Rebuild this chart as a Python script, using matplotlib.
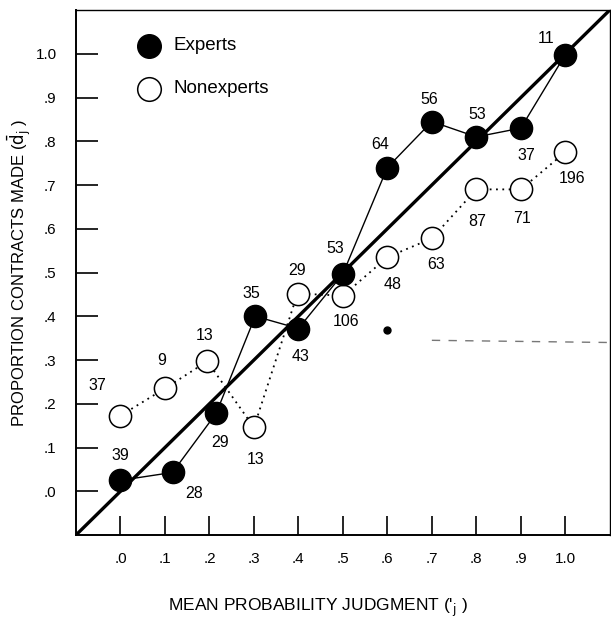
import matplotlib.pyplot as plt

plt.rcParams['font.family'] = ['Liberation Sans', 'DejaVu Sans']

# mean probability judgment (x) and proportion of contracts made (y)
expert_x = [0.0, 0.117, 0.215, 0.303, 0.40, 0.50, 0.60, 0.70, 0.80, 0.90, 1.0]
expert_y = [0.025, 0.043, 0.178, 0.40, 0.372, 0.497, 0.74, 0.845, 0.81, 0.83, 0.998]
expert_n = [39, 28, 29, 35, 43, 53, 64, 56, 53, 37, 11]

nonexpert_x = [0.0, 0.10, 0.195, 0.30, 0.398, 0.50, 0.60, 0.70, 0.80, 0.90, 1.0]
nonexpert_y = [0.173, 0.235, 0.297, 0.146, 0.452, 0.447, 0.535, 0.578, 0.69, 0.69, 0.775]
nonexpert_n = [37, 9, 13, 13, 29, 106, 48, 63, 87, 71, 196]

tick_vals = [0.0, 0.1, 0.2, 0.3, 0.4, 0.5, 0.6, 0.7, 0.8, 0.9, 1.0]
tick_text = ['.0', '.1', '.2', '.3', '.4', '.5', '.6', '.7', '.8', '.9', '1.0']

# label offsets in pixels (style only)
expert_off = [(0, 25), (22, -21), (4, -29), (-4, 23), (2, -28), (-8, 25),
              (-7, 23), (-3, 22), (1, 22), (6, -27), (-19, 16)]
nonexpert_off = [(-23, 30), (-3, 28), (-3, 26), (2, -32), (0, 23), (3, -26),
                 (5, -27), (4, -26), (1, -32), (1, -29), (7, -26)]

fig = plt.figure(figsize=(6.11, 6.18), dpi=100)
ax = fig.add_axes([0.1244, 0.1343, 0.8736, 0.8495])
ax.set_xlim(-0.1, 1.1)
ax.set_ylim(-0.1, 1.1)

# perfect calibration diagonal
ax.plot([-0.1, 1.1], [-0.1, 1.1], color='black', lw=2.4, zorder=2)

ax.plot(nonexpert_x, nonexpert_y, color='black', lw=1.3, ls=(0, (1, 2.5)), zorder=3)
ax.plot(nonexpert_x, nonexpert_y, 'o', ms=16, mfc='white', mec='black', mew=1.1, zorder=4)

ax.plot(expert_x, expert_y, color='black', lw=1.0, zorder=3)
ax.plot(expert_x, expert_y, 'o', ms=16, mfc='black', mec='black', zorder=5)

for x, y, n, off in zip(expert_x, expert_y, expert_n, expert_off):
    ax.annotate(str(n), (x, y), xytext=off, textcoords='offset pixels',
                ha='center', va='center', fontsize=11.5)
for x, y, n, off in zip(nonexpert_x, nonexpert_y, nonexpert_n, nonexpert_off):
    ax.annotate(str(n), (x, y), xytext=off, textcoords='offset pixels',
                ha='center', va='center', fontsize=11.5)

# stray marks on the original scan
ax.plot([0.6], [0.368], 'o', ms=5, color='black')
ax.plot([0.7, 1.1], [0.345, 0.34], color='#777777', lw=1.0, ls=(0, (6, 6)))

# legend drawn by hand
ax.plot([0.065], [1.018], 'o', ms=17, mfc='black', mec='black')
ax.plot([0.065], [0.92], 'o', ms=17, mfc='white', mec='black', mew=1.1)
ax.text(0.12, 1.018, 'Experts', va='center', fontsize=13.5)
ax.text(0.12, 0.92, 'Nonexperts', va='center', fontsize=13.5)

ax.set_xticks(tick_vals)
ax.set_xticklabels(tick_text)
ax.set_yticks(tick_vals)
ax.set_yticklabels(tick_text)
ax.tick_params(axis='x', direction='in', length=14, width=1.2, pad=12, labelsize=11)
ax.tick_params(axis='y', direction='in', length=16, width=1.2, pad=14, labelsize=11)

for side in ['left', 'bottom']:
    ax.spines[side].set_linewidth(1.4)
for side in ['top', 'right']:
    ax.spines[side].set_linewidth(1.0)

ax.set_xlabel(r"MEAN PROBABILITY JUDGMENT ('$_{\mathrm{j}}$ )", fontsize=12.5, va='center')
ax.set_ylabel(r"PROPORTION CONTRACTS MADE ($\bar{\mathrm{d}}_{\mathrm{j}}$ )", fontsize=12,
              va='center', ha='center')
ax.xaxis.set_label_coords(0.453, -0.138)
ax.yaxis.set_label_coords(-0.106, 0.5)

fig.savefig('out.png', dpi=100)
